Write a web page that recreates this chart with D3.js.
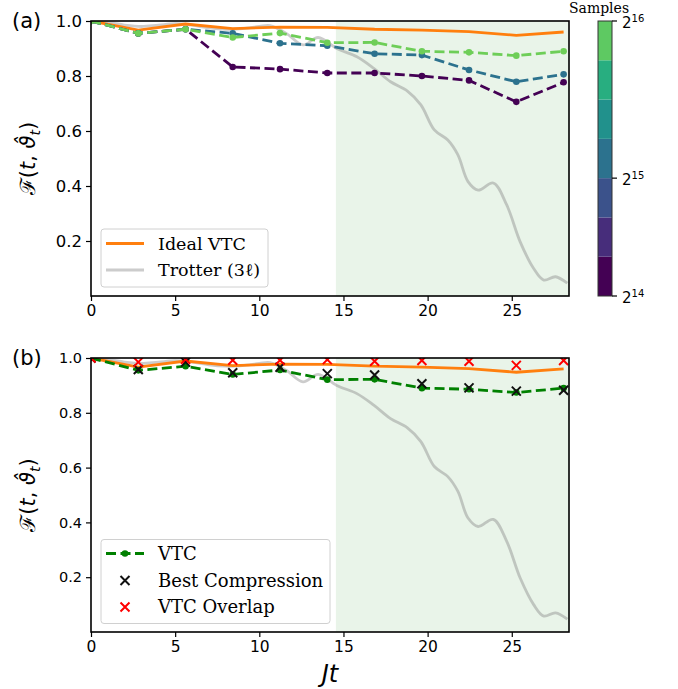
<!DOCTYPE html>
<html>
<head>
<meta charset="utf-8">
<script src="https://cdnjs.cloudflare.com/ajax/libs/d3/7.8.5/d3.min.js"></script>
<style>
  body { margin: 0; background: #fff; }
  text { font-family: "DejaVu Sans", sans-serif; fill: #000; }
  .serif { font-family: "DejaVu Serif", serif; }
</style>
</head>
<body>
<div id="chart"></div>
<script>
// ---- data ----
const times = [0, 2.81, 5.62, 8.42, 11.23, 14.04, 16.85, 19.66, 22.46, 25.27, 28.08];
const idealVTC = [1.0, 0.967, 0.989, 0.972, 0.978, 0.977, 0.970, 0.967, 0.961, 0.948, 0.960];
// sample-count runs (panel a), coloured by the colorbar
const samples14 = [1.0, 0.955, 0.97, 0.833, 0.825, 0.811, 0.811, 0.80, 0.784, 0.706, 0.777];
const samples15 = [1.0, 0.955, 0.97, 0.955, 0.919, 0.91, 0.881, 0.876, 0.822, 0.779, 0.806];
const samples16 = [1.0, 0.955, 0.97, 0.94, 0.956, 0.921, 0.922, 0.89, 0.886, 0.874, 0.89];
const bestCompression = [1.0, 0.958, 0.985, 0.946, 0.966, 0.943, 0.938, 0.906, 0.891, 0.879, 0.882];
const vtcOverlap = [1.0, 0.985, 0.995, 0.992, 0.992, 0.994, 0.988, 0.991, 0.988, 0.973, 0.991];
// Trotter (3l) curve
const trotterT = [0, 1, 2, 3, 4, 5, 6, 7, 8, 9, 10, 10.64, 11.6, 12.6, 13.5, 14.6, 15.8, 16.8, 17.8, 18.8,
                  19.6, 20.4, 21.2, 21.8, 22.4, 23.0, 23.9, 24.7, 25.5, 26.3, 26.9, 27.6, 28.3];
const trotterF = [1.0, 0.995, 0.985, 0.98, 0.985, 0.99, 0.985, 0.975, 0.97, 0.972, 0.98, 0.983, 0.955, 0.913, 0.94, 0.90, 0.87,
                  0.828, 0.779, 0.745, 0.695, 0.604, 0.567, 0.513, 0.416, 0.385, 0.411, 0.331, 0.197, 0.10, 0.058, 0.07, 0.047];
const shadeStart = 14.55;
const yTicks = [0.2, 0.4, 0.6, 0.8, 1.0];
const xTicks = [0, 5, 10, 15, 20, 25];
const cbarBands = 7;
const cbarTicks = [{ pos: 0, exp: '14' }, { pos: 3 / 7, exp: '15' }, { pos: 1, exp: '16' }];

const W = 678, H = 689;
const svg = d3.select('#chart').append('svg').attr('width', W).attr('height', H);

const x = d3.scaleLinear().domain([0, 28.4]).range([91, 569]);
const runColour = t => d3.interpolateViridis(t);
const crossPath = 'M-4.5,-4.5L4.5,4.5M-4.5,4.5L4.5,-4.5';

function panel(top, bottom, opts) {
    const y = d3.scaleLinear().domain([0, 1]).range([bottom, top]);
    const g = svg.append('g');
    const clipId = 'clip' + opts.id;
    svg.append('clipPath').attr('id', clipId)
        .append('rect').attr('x', 91).attr('y', top).attr('width', 478).attr('height', bottom - top);
    const inner = g.append('g').attr('clip-path', `url(#${clipId})`);

    // shaded region
    inner.append('rect')
        .attr('x', x(shadeStart)).attr('y', top)
        .attr('width', x(28.4) - x(shadeStart)).attr('height', bottom - top)
        .attr('fill', 'green').attr('opacity', 0.085);

    const line = d3.line().x((d, i) => x(times[i])).y(d => y(d));
    const smooth = d3.line().curve(d3.curveCatmullRom).x((d, i) => x(trotterT[i])).y(d => y(d));

    inner.append('path').datum(trotterF).attr('d', smooth)
        .attr('fill', 'none').attr('stroke', '#808080').attr('stroke-opacity', 0.4).attr('stroke-width', 2.8);

    inner.append('path').datum(idealVTC).attr('d', line)
        .attr('fill', 'none').attr('stroke', '#ff7f0e').attr('stroke-width', 2.8);

    opts.runs.forEach(r => {
        inner.append('path').datum(r.values).attr('d', line)
            .attr('fill', 'none').attr('stroke', r.colour).attr('stroke-width', 2.8)
            .attr('stroke-dasharray', '10,4.5');
        inner.selectAll(null).data(r.values).enter().append('circle')
            .attr('cx', (d, i) => x(times[i])).attr('cy', d => y(d)).attr('r', 3.3)
            .attr('fill', r.colour);
    });

    (opts.crosses || []).forEach(c => {
        inner.selectAll(null).data(c.values).enter().append('path')
            .attr('transform', (d, i) => `translate(${x(times[i])},${y(d)})`)
            .attr('d', crossPath)
            .attr('stroke', c.colour).attr('stroke-width', 2);
    });

    // frame
    g.append('rect').attr('x', 91).attr('y', top).attr('width', 478).attr('height', bottom - top)
        .attr('fill', 'none').attr('stroke', '#000').attr('stroke-width', 1.6);

    // axes
    const yAxis = d3.axisLeft(y).tickValues(yTicks).tickFormat(d3.format('.1f')).tickSize(5).tickPadding(4);
    const ya = g.append('g').attr('transform', 'translate(91,0)').call(yAxis);
    ya.select('.domain').remove();
    ya.selectAll('text').style('font-size', opts.yFont + 'px');
    ya.selectAll('line').attr('stroke-width', 1.2);

    const xAxis = d3.axisBottom(x).tickValues(xTicks).tickSize(5).tickPadding(4);
    const xa = g.append('g').attr('transform', `translate(0,${bottom})`).call(xAxis);
    xa.select('.domain').remove();
    xa.selectAll('text').style('font-size', '15.5px');
    xa.selectAll('line').attr('stroke-width', 1.2);

    // panel tag
    g.append('text').attr('x', 12).attr('y', top + 7).style('font-size', '21px').text(opts.tag);

    // y label: F(t, θ̂_t)
    const lab = g.append('text')
        .attr('transform', `translate(35,${(top + bottom) / 2}) rotate(-90)`)
        .attr('text-anchor', 'middle').style('font-size', '21px');
    lab.append('tspan').style('font-family', '"DejaVu Serif", serif').text('\u2131');
    lab.append('tspan').text('(');
    lab.append('tspan').style('font-style', 'italic').text('t');
    lab.append('tspan').text(', ');
    lab.append('tspan').style('font-style', 'italic').text('\u03d1\u0302');
    lab.append('tspan').style('font-style', 'italic').style('font-size', '14px').attr('dy', 5).text('t');
    lab.append('tspan').attr('dy', -5).text(')');
    return y;
}

panel(21, 296, {
    id: 'a', tag: '(a)', yFont: 16.5,
    runs: [
        { values: samples14, colour: runColour(0) },
        { values: samples15, colour: runColour(0.375) },
        { values: samples16, colour: runColour(0.78) }
    ]
});

panel(358, 632, {
    id: 'b', tag: '(b)', yFont: 14.5,
    runs: [{ values: samples16, colour: 'green' }],
    crosses: [
        { values: bestCompression, colour: '#111' },
        { values: vtcOverlap, colour: 'red' }
    ]
});

// x label
svg.append('text').attr('x', 330).attr('y', 682).attr('text-anchor', 'middle')
    .style('font-size', '24px').style('font-style', 'italic').text('Jt');

// ---- legends ----
function legendBox(x0, y0, w, h) {
    svg.append('rect').attr('x', x0).attr('y', y0).attr('width', w).attr('height', h)
        .attr('rx', 3).attr('fill', '#fff').attr('fill-opacity', 0.85)
        .attr('stroke', '#d0d0d0').attr('stroke-width', 1);
}
legendBox(101, 229, 167, 58);
const legA = [
    { label: 'Ideal VTC', colour: '#ff7f0e', op: 1, y: 243.5 },
    { label: 'Trotter (3\u2113)', colour: '#808080', op: 0.4, y: 270 }
];
legA.forEach(d => {
    svg.append('line').attr('x1', 106).attr('x2', 144).attr('y1', d.y).attr('y2', d.y)
        .attr('stroke', d.colour).attr('stroke-opacity', d.op).attr('stroke-width', 2.8);
    svg.append('text').attr('class', 'serif').attr('x', 158).attr('y', d.y + 6)
        .style('font-size', '17.5px').text(d.label);
});

legendBox(101, 539.5, 229, 84);
svg.append('line').attr('x1', 106).attr('x2', 144).attr('y1', 553.5).attr('y2', 553.5)
    .attr('stroke', 'green').attr('stroke-width', 2.8).attr('stroke-dasharray', '10,4.5');
svg.append('circle').attr('cx', 125).attr('cy', 553.5).attr('r', 3.3).attr('fill', 'green');
const legB = [
    { label: 'VTC', y: 553.5, mark: null },
    { label: 'Best Compression', y: 580.5, mark: '#111' },
    { label: 'VTC Overlap', y: 607, mark: 'red' }
];
legB.forEach(d => {
    if (d.mark) {
        svg.append('path').attr('transform', `translate(125,${d.y})`)
            .attr('d', crossPath).attr('stroke', d.mark).attr('stroke-width', 2);
    }
    svg.append('text').attr('class', 'serif').attr('x', 158).attr('y', d.y + 6)
        .style('font-size', '18px').text(d.label);
});

// ---- colorbar ----
const cbY = d3.scaleLinear().domain([0, 1]).range([296, 21]);
const cb = svg.append('g');
cb.selectAll('rect').data(d3.range(cbarBands)).enter().append('rect')
    .attr('x', 598).attr('width', 14)
    .attr('y', i => cbY((i + 1) / cbarBands)).attr('height', cbY(0) - cbY(1 / cbarBands))
    .attr('fill', i => runColour(i / 8));
cb.append('rect').attr('x', 598).attr('y', 21).attr('width', 14).attr('height', 275)
    .attr('fill', 'none').attr('stroke', '#333').attr('stroke-width', 1);
cbarTicks.forEach(t => {
    const yy = cbY(t.pos);
    cb.append('line').attr('x1', 612).attr('x2', 617).attr('y1', yy).attr('y2', yy)
        .attr('stroke', '#000').attr('stroke-width', 1.2);
    const tx = cb.append('text').attr('x', 622).attr('y', yy + 7).style('font-size', '15px');
    tx.append('tspan').text('2');
    tx.append('tspan').attr('dy', -6).style('font-size', '10px').text(t.exp);
});
svg.append('text').attr('class', 'serif').attr('x', 599).attr('y', 13)
    .attr('text-anchor', 'middle').style('font-size', '14px').text('Samples');
</script>
</body>
</html>
